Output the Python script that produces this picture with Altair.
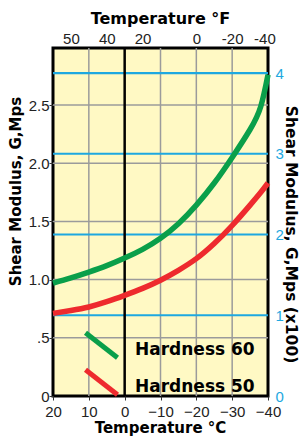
import altair as alt
import pandas as pd

# ---------------- values ----------------
temp_c = [20, 15, 10, 5, 0, -5, -10, -15, -20, -25, -30, -35, -38, -40]
shear_h60 = [0.97, 1.015, 1.065, 1.12, 1.185, 1.26, 1.355, 1.48, 1.64, 1.83, 2.05, 2.29, 2.49, 2.76]
shear_h50 = [0.71, 0.735, 0.765, 0.81, 0.865, 0.925, 0.995, 1.08, 1.18, 1.31, 1.465, 1.64, 1.75, 1.83]
series = ["Hardness 60", "Hardness 50"]
series_colors = ["#0a9f4a", "#ee2a2e"]

c_ticks = [20, 10, 0, -10, -20, -30, -40]
f_labels = ["50", "40", "20", "0", "-20", "-40"]
f_label_at_c = [15, 5, -5, -20, -30, -39]      # where each °F label sits on the °C scale
left_ticks = [0, 0.5, 1.0, 1.5, 2.0, 2.5]
left_labels = ["0", ".5", "1.0", "1.5", "2.0", "2.5"]
right_ticks = [0, 1, 2, 3, 4]
freezing_c = [0]

x_domain = [20, -40]
y_domain = [0, 2.99]
y2_domain = [0, 4.31]

# ---------------- helpers ----------------
def label_expr(values, labels):
    expr = "''"
    for v, lab in reversed(list(zip(values, labels))):
        expr = f"datum.value == {v} ? '{lab}' : ({expr})"
    return expr

LABEL_FONT = "Liberation Sans"
TITLE_FONT = "DejaVu Sans"
GRID_GRAY = "#9b9b9b"
BLUE = "#1ea8e0"

xs = alt.Scale(domain=x_domain, nice=False, zero=False)
ys = alt.Scale(domain=y_domain, nice=False, zero=False)
y2s = alt.Scale(domain=y2_domain, nice=False, zero=False)

curves = pd.DataFrame({
    "temp": temp_c + temp_c,
    "g": shear_h60 + shear_h50,
    "series": [series[0]] * len(temp_c) + [series[1]] * len(temp_c),
})

# gray horizontal grid + left axis
h_grid = alt.Chart(pd.DataFrame({"g": left_ticks[1:]})).mark_rule(
    color=GRID_GRAY, strokeWidth=1.5
).encode(
    y=alt.Y("g:Q", scale=ys, axis=alt.Axis(
        orient="left", values=left_ticks, labelExpr=label_expr(left_ticks, left_labels),
        grid=False, domain=False, ticks=True, tickSize=4, tickColor="#333", tickWidth=1,
        labelPadding=0, labelFont=LABEL_FONT, labelFontSize=15, labelColor="#222",
        labelBaseline="middle",
        title="Shear Modulus, G,Mps", titleFont=TITLE_FONT, titleFontSize=15,
        titleFontWeight="bold", titleColor="black",
        titleX=-33, titleY=143, titleAngle=270, titleAlign="center",
        titleBaseline="alphabetic",
    ))
)

# gray vertical grid + bottom axis
v_grid = alt.Chart(pd.DataFrame({"t": [v for v in c_ticks[1:-1] if v not in freezing_c]})).mark_rule(
    color=GRID_GRAY, strokeWidth=1.5
).encode(
    x=alt.X("t:Q", scale=xs, axis=alt.Axis(
        orient="bottom", values=c_ticks, format="d", labelFlush=False,
        grid=False, domain=False, ticks=True, tickSize=4, tickColor="#333", tickWidth=1,
        labelPadding=4, labelFont=LABEL_FONT, labelFontSize=15, labelColor="#222",
        title="Temperature °C", titleFont=TITLE_FONT, titleFontSize=15,
        titleFontWeight="bold", titleColor="black",
        titleX=107, titleY=36.5, titleAlign="center", titleBaseline="alphabetic",
    ))
)

# blue horizontal lines + right axis
b_grid = alt.Chart(pd.DataFrame({"g2": right_ticks[1:]})).mark_rule(
    color=BLUE, strokeWidth=2.2
).encode(
    y=alt.Y("g2:Q", scale=y2s, axis=alt.Axis(
        orient="right", values=right_ticks, format="d",
        grid=False, domain=False, ticks=False, tickSize=0,
        labelPadding=7, labelFont=LABEL_FONT, labelFontSize=15, labelColor=BLUE,
        labelBaseline="middle",
        title="Shear Modulus, G,Mps (x100)", titleFont=TITLE_FONT, titleFontSize=15.5,
        titleFontWeight="bold", titleColor="black",
        titleX=17.5, titleY=186, titleAngle=90, titleAlign="center",
        titleBaseline="alphabetic",
    ))
)

# black 0 °C line
zero_line = alt.Chart(pd.DataFrame({"t": freezing_c})).mark_rule(
    color="black", strokeWidth=2.5
).encode(x=alt.X("t:Q", scale=xs, axis=None))

# top °F axis (labels only)
top_axis = alt.Chart(pd.DataFrame({"t": f_label_at_c})).mark_point(opacity=0).encode(
    x=alt.X("t:Q", scale=xs, axis=alt.Axis(
        orient="top", values=f_label_at_c, labelExpr=label_expr(f_label_at_c, f_labels),
        labelFlush=False, grid=False, domain=False, ticks=False, tickSize=0,
        labelPadding=2, labelFont=LABEL_FONT, labelFontSize=15, labelColor="#222",
        title="Temperature °F", titleFont=TITLE_FONT, titleFontSize=16,
        titleFontWeight="bold", titleColor="black",
        titleX=107, titleY=-25, titleAlign="center", titleBaseline="alphabetic",
    ))
)

# the two curves with the legend inside the plot
lines = alt.Chart(curves).mark_line(strokeWidth=5.5, interpolate="natural", strokeCap="butt").encode(
    x=alt.X("temp:Q", scale=xs, axis=None),
    y=alt.Y("g:Q", scale=ys, axis=None),
    color=alt.Color("series:N", scale=alt.Scale(domain=series, range=series_colors),
                    sort=series,
                    legend=alt.Legend(
                        orient="none", legendX=30, legendY=283, title=None,
                        symbolType="M-1,-1.05L1,0.51", symbolSize=1024,
                        symbolStrokeWidth=5, symbolFillColor="transparent",
                        labelFont=TITLE_FONT, labelFontWeight="bold", labelFontSize=17,
                        labelColor="black", labelBaseline="middle", labelOffset=15,
                        rowPadding=-22, padding=0, offset=0,
                    )),
    detail="series:N",
)

chart = alt.layer(h_grid, v_grid, b_grid, zero_line, top_axis, lines).resolve_scale(
    x="independent", y="independent", color="independent"
).properties(
    width=215, height=348,
    autosize=alt.AutoSizeParams(type="none"),
    padding={"left": 45, "top": 40, "right": 32, "bottom": 40},
    background="white",
).configure_view(stroke="black", strokeWidth=3, fill="#fff9c4")

chart.save("out.html", embed_options={"renderer": "svg", "actions": False})
